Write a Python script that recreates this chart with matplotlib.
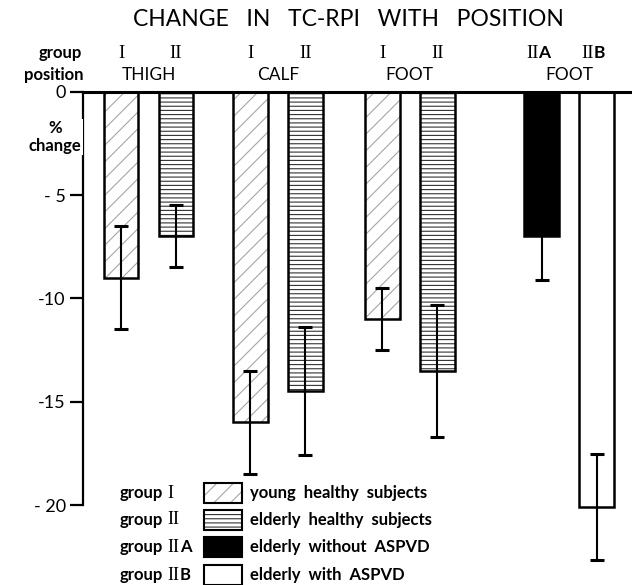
import matplotlib.pyplot as plt
from matplotlib.patches import Rectangle

# data (% change, mean and error bar half-length)
groups = ["I", "II", "I", "II", "I", "II", "IIA", "IIB"]
sites = ["THIGH", "CALF", "FOOT", "FOOT"]
change = [-9.0, -7.0, -16.0, -14.5, -11.0, -13.5, -7.0, -20.1]
err = [2.5, 1.5, 2.5, 3.1, 1.5, 3.2, 2.1, 2.55]
yticks = [0, -5, -10, -15, -20]
ytick_labels = ["0", "- 5", "-10", "-15", "- 20"]
legend_groups = ["I", "II", "IIA", "IIB"]
legend_text = ["young  healthy  subjects", "elderly  healthy  subjects",
               "elderly  without  ASPVD", "elderly  with  ASPVD"]

# layout
SANS = "Lato"
SERIF = "Liberation Serif"
W, H = 632, 585
BAR_W = 0.63
# bar centres: pairs of bars, gaps between sites
xpos = [0, 1, 2.35, 3.35, 4.75, 5.75, 7.65, 8.65]
pairs = [(0, 1), (2, 3), (4, 5), (6, 7)]

# fill, hatch, hatch colour per group
STYLE = {
    "I": ("white", "//", "#a6a6a6"),
    "II": ("white", "----", "#333333"),
    "IIA": ("black", None, "black"),
    "IIB": ("white", None, "white"),
}

plt.rcParams["hatch.linewidth"] = 0.8

fig = plt.figure(figsize=(W / 100, H / 100), dpi=100)
ax = fig.add_axes([83 / W, 0, 1 - 83 / W, (H - 91.7) / H])
ax.set_xlim(-0.69, 9.29)
ax.set_ylim(-(H - 91.7) / 20.67, 0)


def px(x, y):
    return x / W, 1 - y / H


def roman(x, y, label, size, trans, ha="center"):
    # roman numeral in serif, trailing letter (A/B) in sans
    num = label.rstrip("AB")
    suffix = label[len(num):]
    if suffix:
        ax.text(x, y, num, fontsize=size, family=SERIF, ha="right", va="center",
                transform=trans, clip_on=False)
        ax.text(x, y, suffix, fontsize=size - 1, family=SANS, ha="left", va="center",
                transform=trans, clip_on=False, fontweight="bold")
    else:
        ax.text(x, y, num, fontsize=size, family=SERIF, ha=ha, va="center",
                transform=trans, clip_on=False)


for x, g, v in zip(xpos, groups, change):
    face, hatch, hcol = STYLE[g]
    ax.bar(x, v, width=BAR_W, color=face, hatch=hatch, edgecolor=hcol,
           linewidth=0, align="center")
    ax.bar(x, v, width=BAR_W, fill=False, edgecolor="black", linewidth=1.8)

ax.errorbar(xpos, change, yerr=err, fmt="none", ecolor="black",
            elinewidth=1.5, capsize=5, capthick=2.2, clip_on=False, zorder=5)

for s in ["right", "bottom"]:
    ax.spines[s].set_visible(False)
ax.spines["left"].set_bounds(-20, 0)
ax.spines["left"].set_linewidth(1.6)
ax.spines["top"].set_linewidth(2.2)
ax.set_xticks([])
ax.set_yticks(yticks)
ax.set_yticklabels(ytick_labels, fontsize=13, family=SANS)
ax.tick_params(axis="y", length=9.5, width=1.6, pad=3)

# header rows
for x, g in zip(xpos, groups):
    if len(g) > 2:
        roman(x - 0.06, 1.87, g, 13.5, ax.transData)
    else:
        roman(x, 1.87, g, 13.5, ax.transData)
for (a, b), name in zip(pairs, sites):
    ax.text((xpos[a] + xpos[b]) / 2, 0.8, name, fontsize=12.5, family=SANS,
            ha="center", va="center", clip_on=False)

fig.text(*px(82, 53), "group", fontsize=12, family=SANS, fontweight="bold",
         ha="right", va="center")
fig.text(*px(84, 75), "position", fontsize=12, family=SANS, fontweight="bold",
         ha="right", va="center")
fig.text(*px(348, 20), "CHANGE   IN   TC-RPI   WITH   POSITION", fontsize=16.5,
         family=SANS, ha="center", va="center")
fig.text(*px(55, 137), "%\nchange", fontsize=12, family=SANS, fontweight="bold",
         ha="center", va="center", linespacing=1.1,
         bbox=dict(facecolor="white", edgecolor="none", pad=1))

# legend drawn by hand, one row per group
rows_y = [493, 520, 547, 575]
for g, txt, y in zip(legend_groups, legend_text, rows_y):
    face, hatch, hcol = STYLE[g]
    fig.text(*px(120, y), "group", fontsize=12, family=SANS, fontweight="bold",
             ha="left", va="center")
    num = g.rstrip("AB")
    fig.text(*px(167, y), num, fontsize=13, family=SERIF, ha="left", va="center")
    if len(num) < len(g):
        fig.text(*px(180, y), g[len(num):], fontsize=12, family=SANS,
                 fontweight="bold", ha="left", va="center")
    x0, y0 = px(204, y + 10)
    fig.patches.append(Rectangle((x0, y0), 38 / W, 20 / H, transform=fig.transFigure,
                                 facecolor=face, hatch=hatch, edgecolor=hcol,
                                 linewidth=0))
    fig.patches.append(Rectangle((x0, y0), 38 / W, 20 / H, transform=fig.transFigure,
                                 fill=False, edgecolor="black", linewidth=1.5))
    fig.text(*px(250, y), txt, fontsize=12, family=SANS, fontweight="bold",
             ha="left", va="center")

fig.savefig("out.png", dpi=100)
